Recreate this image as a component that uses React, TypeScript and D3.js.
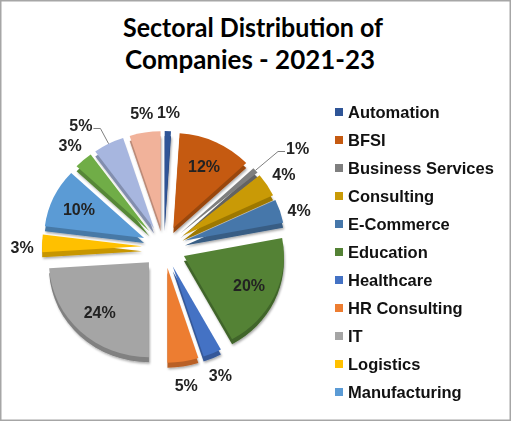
import * as d3 from "d3";

// sector names, shares (%) and fills, in drawing order clockwise from 12 o'clock
const sectors = [
  "Automation",
  "BFSI",
  "Business Services",
  "Consulting",
  "E-Commerce",
  "Education",
  "Healthcare",
  "HR Consulting",
  "IT",
  "Logistics",
  "Manufacturing",
  "Other 1",
  "Other 2",
  "Other 3",
];
const shares = [1, 12, 1, 4, 4, 20, 3, 5, 24, 3, 10, 3, 5, 5];
const colors = [
  "#2F5597",
  "#C55A11",
  "#7F7F7F",
  "#C99A06",
  "#4677AA",
  "#548235",
  "#4472C4",
  "#ED7D31",
  "#A5A5A5",
  "#FFC000",
  "#5B9BD5",
  "#70AD47",
  "#A7B6DF",
  "#F1B29A",
];
// only these show in the legend (it is cut off after Manufacturing)
const legendCount = 11;
// tiny slices whose labels hang off a leader line
const leaderLabels = ["Business Services", "Other 2"];

const W = 512;
const H = 422;
const cx = 164;
const cy = 247;
const r = 100;
const tilt = 0.95;
const depth = 5;
const explode = 22;

type Slice = d3.PieArcDatum<number> & { i: number };

const App = () => {
  const pie = d3
    .pie<number>()
    .sort(null)
    .value((d) => d);
  const slices: Slice[] = pie(shares).map((d, i) => ({ ...d, i }));
  const arc = d3.arc<Slice>().innerRadius(0).outerRadius(r);

  const mid = (d: Slice) => (d.startAngle + d.endAngle) / 2;
  const dir = (a: number) => [Math.sin(a), -Math.cos(a)];
  const apex = (d: Slice) => {
    const [ux, uy] = dir(mid(d));
    return [cx + ux * explode, cy + uy * explode * tilt];
  };
  const at = (d: Slice, rad: number, a = mid(d)) => {
    const [ax, ay] = apex(d);
    const [ux, uy] = dir(a);
    return [ax + ux * rad, ay + uy * rad * tilt];
  };

  return (
    <svg
      width={W}
      height={H}
      style={{ position: "absolute", left: 0, top: 0, background: "#fff" }}
    >
      <defs>
        <filter id="shade" x="-20%" y="-20%" width="140%" height="140%">
          <feDropShadow dx="1" dy="1.5" stdDeviation="1" floodColor="#000" floodOpacity="0.35" />
        </filter>
      </defs>
      <rect x={0.75} y={0.75} width={W - 2.5} height={H - 2.5} fill="#fff" stroke="#A6A6A6" strokeWidth={1.5} />

      <text
        x={253}
        y={37}
        textAnchor="middle"
        fontFamily="Lato, 'Open Sans', sans-serif"
        fontWeight={700}
        fontSize={26}
        textLength={260}
        lengthAdjust="spacingAndGlyphs"
        fill="#000"
      >
        Sectoral Distribution of
      </text>
      <text
        x={250}
        y={69}
        textAnchor="middle"
        fontFamily="Lato, 'Open Sans', sans-serif"
        fontWeight={700}
        fontSize={26}
        textLength={250}
        lengthAdjust="spacingAndGlyphs"
        fill="#000"
      >
        Companies - 2021-23
      </text>

      {/* slice sides (extrusion) */}
      <g filter="url(#shade)">
        {slices.map((d) => {
          const [ax, ay] = apex(d);
          return (
            <path
              key={"side" + d.i}
              d={arc(d) ?? ""}
              transform={`translate(${ax},${ay + depth}) scale(1,${tilt})`}
              fill={d3.color(colors[d.i])!.darker(0.7).formatHex()}
            />
          );
        })}
      </g>
      {/* slice tops */}
      <g>
        {slices.map((d) => {
          const [ax, ay] = apex(d);
          return (
            <path
              key={"top" + d.i}
              d={arc(d) ?? ""}
              transform={`translate(${ax},${ay}) scale(1,${tilt})`}
              fill={colors[d.i]}
            />
          );
        })}
      </g>

      {/* percentage labels */}
      <g fontFamily="'Liberation Sans', Arial, sans-serif" fontWeight={700} fontSize={16} fill="#222">
        {slices.map((d) => {
          const label = `${d.data}%`;
          if (d.data >= 10) {
            const [x, y] = at(d, r * 0.72);
            return (
              <text key={"l" + d.i} x={x} y={y} textAnchor="middle" dy="0.35em">
                {label}
              </text>
            );
          }
          if (leaderLabels.includes(sectors[d.i])) {
            const right = Math.sin(mid(d)) > 0;
            const [x0, y0] = at(d, r);
            const [x1, y1] = at(d, r + (right ? 30 : 18));
            const x2 = x1 + (right ? 7 : -7);
            return (
              <g key={"l" + d.i}>
                <polyline
                  points={`${x0},${y0} ${x1},${y1} ${x2},${y1}`}
                  fill="none"
                  stroke="#7F7F7F"
                  strokeWidth={1}
                />
                <text x={x2 + (right ? 1 : -1)} y={y1 - 3} dy="0.35em" textAnchor={right ? "start" : "end"}>
                  {label}
                </text>
              </g>
            );
          }
          const [x, y] = at(d, r + 20);
          return (
            <text key={"l" + d.i} x={x} y={y + (Math.cos(mid(d)) < 0.4 ? depth : 0)} textAnchor="middle" dy="0.35em">
              {label}
            </text>
          );
        })}
      </g>

      {/* legend */}
      <g fontFamily="'Liberation Sans', Arial, sans-serif" fontWeight={700} fontSize={16.5} fill="#111">
        {sectors.slice(0, legendCount).map((name, i) => {
          const y = 112 + i * 28;
          return (
            <g key={name}>
              <rect x={335} y={y - 4} width={8} height={8} fill={colors[i]} />
              <text x={348} y={y} dy="0.36em">
                {name}
              </text>
            </g>
          );
        })}
      </g>
    </svg>
  );
};

export default App;
